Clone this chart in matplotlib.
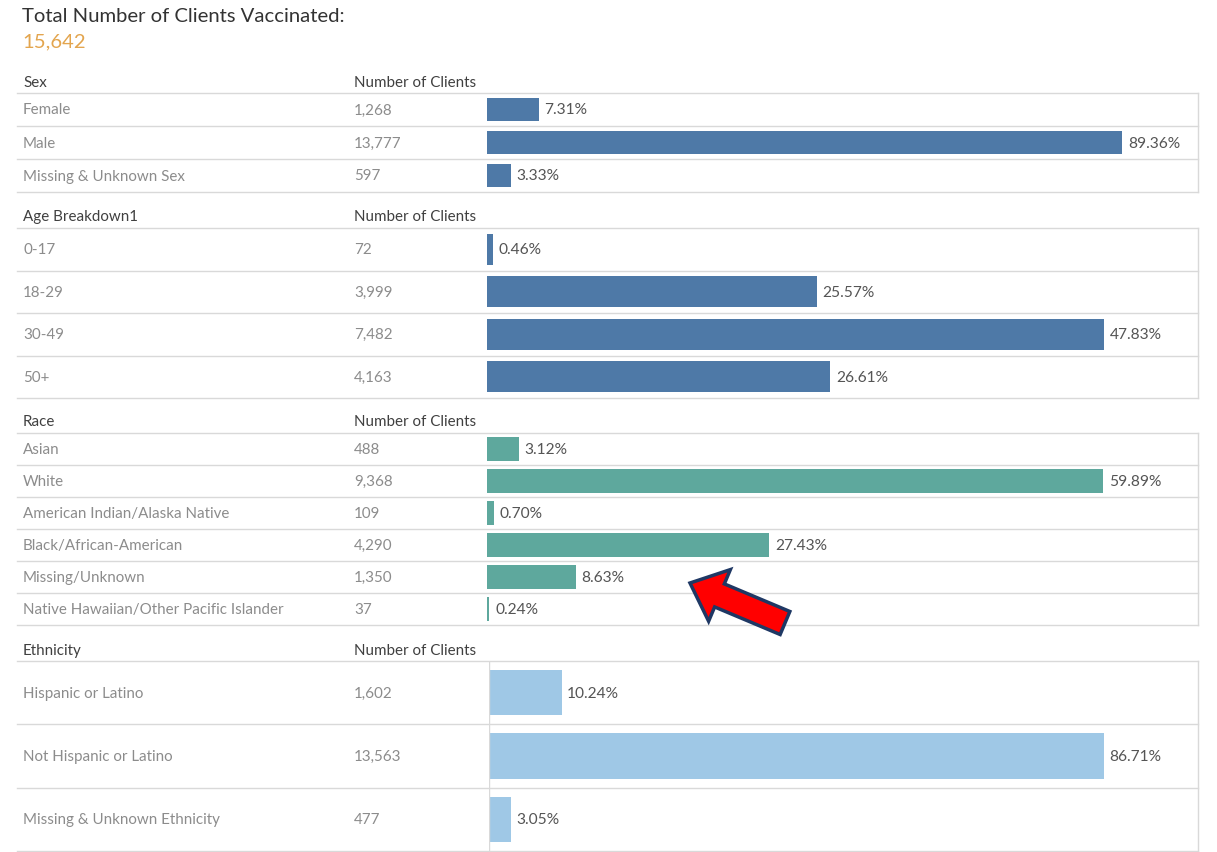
import matplotlib
matplotlib.use("Agg")
import matplotlib.pyplot as plt
from matplotlib.patches import FancyArrow
from matplotlib.transforms import blended_transform_factory

plt.rcParams['font.family'] = ['Lato', 'DejaVu Sans']

# vaccinated clients by group
total_clients = 15642

sex_labels = ['Female', 'Male', 'Missing & Unknown Sex']
sex_counts = [1268, 13777, 597]
sex_pct = [7.31, 89.36, 3.33]

age_labels = ['0-17', '18-29', '30-49', '50+']
age_counts = [72, 3999, 7482, 4163]
age_pct = [0.46, 25.57, 47.83, 26.61]

race_labels = ['Asian', 'White', 'American Indian/Alaska Native',
               'Black/African-American', 'Missing/Unknown',
               'Native Hawaiian/Other Pacific Islander']
race_counts = [488, 9368, 109, 4290, 1350, 37]
race_pct = [3.12, 59.89, 0.70, 27.43, 8.63, 0.24]

eth_labels = ['Hispanic or Latino', 'Not Hispanic or Latino',
              'Missing & Unknown Ethnicity']
eth_counts = [1602, 13563, 477]
eth_pct = [10.24, 86.71, 3.05]

W, H = 1217, 853
LINE = '#d9d9d9'
LABEL = '#8c8c8c'
HEAD = '#404040'
FS = 10.9

fig = plt.figure(figsize=(W / 100, H / 100), dpi=100)
fig.patch.set_facecolor('white')

fig.text(22 / W, 1 - 16 / H, 'Total Number of Clients Vaccinated:',
         fontsize=14.6, color='#333333', va='center', ha='left')
fig.text(22 / W, 1 - 42 / H, f'{total_clients:,}',
         fontsize=14.6, color='#e3a54e', va='center', ha='left')

# (title, labels, counts, pct, color, header y, box top, box bottom, axis max, bar left)
sections = [
    ('Sex', sex_labels, sex_counts, sex_pct, '#4e79a7', 83, 94, 193, 100.0, 487),
    ('Age Breakdown1', age_labels, age_counts, age_pct, '#4e79a7', 217, 229, 399, 55.1, 487),
    ('Race', race_labels, race_counts, race_pct, '#5ea89d', 422, 434, 626, 69.1, 487),
    ('Ethnicity', eth_labels, eth_counts, eth_pct, '#9fc8e6', 651, 662, 852, 100.0, 489),
]

X_RIGHT = 1198
X_LINE = 17

for title, labels, counts, pct, color, hy, top, bot, xmax, xl in sections:
    n = len(labels)
    ax = fig.add_axes([xl / W, 1 - bot / H, (X_RIGHT - xl) / W, (bot - top) / H])
    ax.set_xlim(0, xmax)
    ax.set_ylim(n, 0)
    ax.set_xticks([])
    ax.set_yticks([])
    for s in ['top', 'bottom', 'left']:
        ax.spines[s].set_visible(False)
    ax.spines['right'].set_color(LINE)
    ax.spines['right'].set_linewidth(1)
    ax.patch.set_alpha(0)

    ypos = [i + 0.5 for i in range(n)]
    ax.barh(ypos, pct, height=0.72, color=color, edgecolor='none')

    xfrac = (X_LINE - xl) / (X_RIGHT - xl)
    for k in range(n + 1):
        ax.axhline(k, xmin=xfrac, xmax=1, color=LINE, lw=1, clip_on=False)
    if title == 'Ethnicity':
        ax.axvline(0, color=LINE, lw=1)

    tr = blended_transform_factory(fig.transFigure, ax.transData)
    for y, lab, c, p in zip(ypos, labels, counts, pct):
        ax.text(23 / W, y, lab, transform=tr, fontsize=FS, color=LABEL,
                va='center', ha='left')
        ax.text(354 / W, y, f'{c:,}', transform=tr, fontsize=FS, color=LABEL,
                va='center', ha='left')
        ax.annotate(f'{p:.2f}%', (p, y), xytext=(4, 0), textcoords='offset points',
                    fontsize=11.2, color='#555555', va='center', ha='left')

    fig.text(23 / W, 1 - hy / H, title, fontsize=FS, color=HEAD, va='center', ha='left')
    fig.text(354 / W, 1 - hy / H, 'Number of Clients', fontsize=FS, color=HEAD,
             va='center', ha='left')

# red call-out arrow pointing at the Missing/Unknown race row
ov = fig.add_axes([0, 0, 1, 1], zorder=10)
ov.set_xlim(0, W)
ov.set_ylim(H, 0)
ov.axis('off')
ov.patch.set_alpha(0)
ov.add_patch(FancyArrow(785, 624, -95, -40, width=25, head_width=56, head_length=32,
                        length_includes_head=True, facecolor='#ff0000',
                        edgecolor='#1f3864', linewidth=2.5, joinstyle='miter'))

fig.savefig('out.png', dpi=100)
